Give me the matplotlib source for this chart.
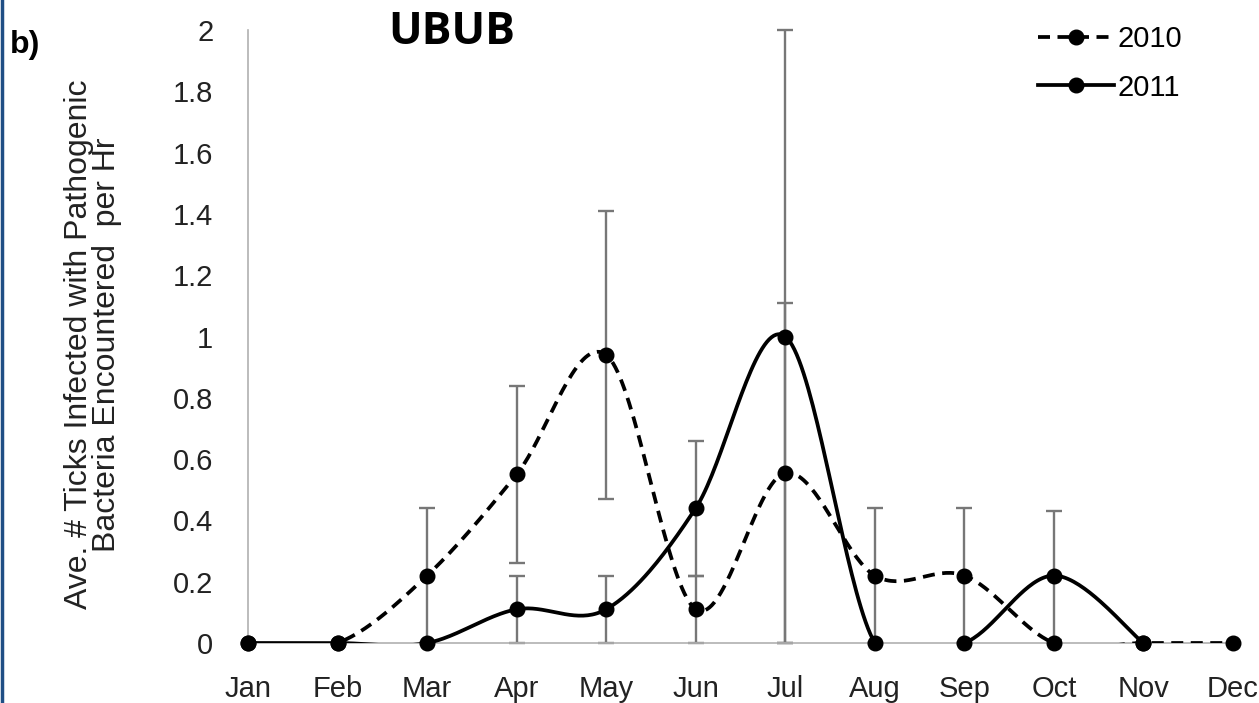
import matplotlib.pyplot as plt
from matplotlib.lines import Line2D
import numpy as np

plt.rcParams['font.family'] = ['Liberation Sans', 'DejaVu Sans']

months = ['Jan', 'Feb', 'Mar', 'Apr', 'May', 'Jun',
          'Jul', 'Aug', 'Sep', 'Oct', 'Nov', 'Dec']

# average infected ticks per hour
y2010 = [0, 0, 0.22, 0.55, 0.94, 0.11, 0.555, 0.22, 0.22, 0, 0, 0]
err2010 = [0, 0, 0.22, 0.29, 0.47, 0.11, 0.555, 0.22, 0.22, 0, 0, 0]
y2011 = [0, 0, 0, 0.11, 0.11, 0.44, 1.0, 0, 0, 0.22, 0, np.nan]
err2011 = [0, 0, 0, 0.11, 0.11, 0.22, 1.0, 0, 0, 0.21, 0, 0]

yticks = [0, 0.2, 0.4, 0.6, 0.8, 1, 1.2, 1.4, 1.6, 1.8, 2]
ytick_labels = ['0', '0.2', '0.4', '0.6', '0.8', '1', '1.2', '1.4', '1.6', '1.8', '2']


def smooth(x, y, n=40):
    """Excel style smoothed line (cardinal bezier through every point)"""
    x = np.asarray(x, float)
    y = np.asarray(y, float)
    keep = ~np.isnan(y)
    x, y = x[keep], y[keep]
    px, py = [], []
    for i in range(len(x) - 1):
        a = max(i - 1, 0)
        b = min(i + 2, len(x) - 1)
        c1x = x[i] + (x[i + 1] - x[a]) / 6
        c1y = y[i] + (y[i + 1] - y[a]) / 6
        c2x = x[i + 1] - (x[b] - x[i]) / 6
        c2y = y[i + 1] - (y[b] - y[i]) / 6
        t = np.linspace(0, 1, n)
        px.extend((1-t)**3*x[i] + 3*(1-t)**2*t*c1x + 3*(1-t)*t**2*c2x + t**3*x[i+1])
        py.extend((1-t)**3*y[i] + 3*(1-t)**2*t*c1y + 3*(1-t)*t**2*c2y + t**3*y[i+1])
    return np.array(px), np.array(py)


fig = plt.figure(figsize=(12.59, 7.03), dpi=100)
ax = fig.add_axes([248/1259, 60/703, 985/1259, 613/703])

x = np.arange(len(months))
dash = (0, (3.2, 2))

# error bars first, grey, behind the lines
for vals, errs in [(y2010, err2010), (y2011, err2011)]:
    v = np.array(vals, float)
    e = np.array(errs, float)
    m = (e > 0) & ~np.isnan(v)
    ax.errorbar(x[m], v[m], yerr=e[m], fmt='none', ecolor='#777777',
                elinewidth=1.7, capsize=6, capthick=1.7, clip_on=False, zorder=2)

sx, sy = smooth(x, y2010)
ax.plot(sx, sy, color='black', lw=2.7, linestyle=dash, zorder=3)
sx, sy = smooth(x, y2011)
ax.plot(sx, sy, color='black', lw=2.7, zorder=3)

ax.plot(x, y2010, 'o', color='black', ms=10.5, clip_on=False, zorder=4)
ax.plot(x, y2011, 'o', color='black', ms=10.5, clip_on=False, zorder=4)

ax.set_xlim(0, 11)
ax.set_ylim(0, 2)
ax.set_xticks(x)
ax.set_xticklabels(months)
ax.set_yticks(yticks)
ax.set_yticklabels(ytick_labels)
ax.tick_params(length=0, labelsize=21, labelcolor='#222222')
ax.tick_params(axis='x', pad=23)
ax.tick_params(axis='y', pad=25)

for s in ['top', 'right']:
    ax.spines[s].set_visible(False)
for s in ['left', 'bottom']:
    ax.spines[s].set_color('#b0b0b0')
    ax.spines[s].set_linewidth(1.2)

handles = [Line2D([], [], color='black', lw=2.7, linestyle=dash, marker='o', ms=10.5),
           Line2D([], [], color='black', lw=2.7, marker='o', ms=10.5)]
ax.legend(handles, ['2010', '2011'], loc='upper right', bbox_to_anchor=(0.948, 1.008),
          frameon=False, fontsize=21, handlelength=2.6, handletextpad=0.1,
          labelspacing=0.7, borderpad=0, borderaxespad=0)

fig.text(93/1259, 0.51, 'Ave. # Ticks Infected with Pathogenic\nBacteria Encountered  per Hr',
         rotation=90, ha='center', va='center', multialignment='center',
         fontsize=23, color='#222222', linespacing=0.92)

fig.text(10/1259, 1 - 45/703, 'b)', fontsize=23, fontweight='bold', va='center')
fig.text(452/1259, 1 - 33/703, 'UBUB', fontsize=32, fontweight='bold',
         ha='center', va='center', family='Open Sans')

# thin blue border on the left edge of the original panel
fig.add_artist(Line2D([1.5/1259, 1.5/1259], [0, 1], color='#1f4e85', lw=2.5))

fig.savefig('out.png', dpi=100)
